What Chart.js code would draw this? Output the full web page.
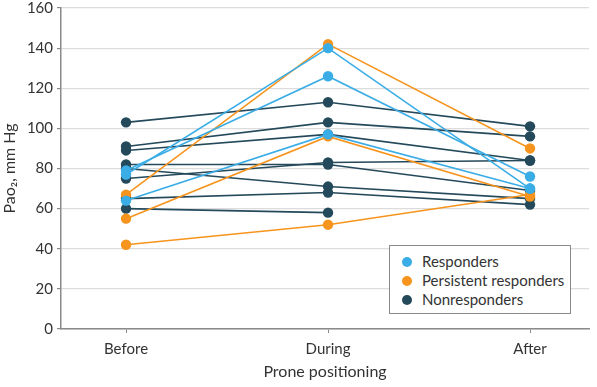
<!DOCTYPE html>
<html><head><meta charset="utf-8">
<script src="https://cdn.jsdelivr.net/npm/chart.js@4/dist/chart.umd.min.js"></script>
<style>
html,body{margin:0;padding:0;background:#fff;}
#wrap{position:relative;width:597px;height:387px;}
#legend{position:absolute;left:389px;top:245px;width:182px;height:69px;border:1px solid #8a8a8a;background:#fff;box-sizing:border-box;padding-top:6px;font-family:Lato,sans-serif;font-size:15px;color:#333;}
#legend .row{display:flex;align-items:center;height:19px;line-height:19px;}
#legend .dot{width:10px;height:10px;border-radius:50%;margin-left:12px;margin-right:10px;}
</style>
</head><body>
<div id="wrap"><canvas id="c" width="597" height="387"></canvas><div id="legend"></div></div>
<script>
const categories = ['Before', 'During', 'After'];
const yTickValues = [0, 20, 40, 60, 80, 100, 120, 140, 160];
const groupLabels = ['Responders', 'Persistent responders', 'Nonresponders'];
const responders = [[77, 140, 70], [79, 126, 76], [64, 97, 70]];
const persistentResponders = [[67, 142, 90], [55, 96, 66], [42, 52, 67]];
const nonresponders = [[103, 113, 101], [91, 103, 96], [89, 97, 84], [82, 82, 69], [75, 83, 84], [80, 71, 65], [65, 68, 62], [60, 58, null]];

const groupColors = ['#3aade6', '#f7941d', '#24495a'];
const groups = [responders, persistentResponders, nonresponders];
const FONT = 'Lato, sans-serif';

const datasets = [];
groups.forEach((g, gi) => {
  g.forEach(series => {
    datasets.push({
      label: groupLabels[gi],
      data: series.map((v, i) => ({x: i, y: v})),
      borderColor: groupColors[gi],
      backgroundColor: groupColors[gi],
      pointBackgroundColor: groupColors[gi],
      pointBorderWidth: 0,
      pointRadius: 5.2,
      borderWidth: 1.6,
      tension: 0,
      spanGaps: false
    });
  });
});

const legend = document.getElementById('legend');
groupLabels.forEach((l, i) => {
  const r = document.createElement('div'); r.className = 'row';
  const d = document.createElement('span'); d.className = 'dot'; d.style.background = groupColors[i];
  const t = document.createElement('span'); t.textContent = l;
  r.appendChild(d); r.appendChild(t); legend.appendChild(r);
});

new Chart(document.getElementById('c'), {
  type: 'line',
  data: {datasets},
  options: {
    responsive: false,
    animation: false,
    layout: {padding: {top: 8, right: 8, left: 0, bottom: 0}},
    plugins: {legend: {display: false}, tooltip: {enabled: false}},
    scales: {
      x: {
        type: 'linear',
        min: -0.322, max: 2.292,
        afterBuildTicks: s => { s.ticks = categories.map((c, i) => ({value: i})); },
        afterFit: s => { s.height = 58; s.paddingLeft = 0; s.paddingRight = 0; },
        ticks: {autoSkip: false, callback: v => categories[v], color: '#333', font: {family: FONT, size: 15}, padding: 7},
        grid: {display: true, drawOnChartArea: false, drawTicks: true, tickLength: 4, tickColor: '#8a8a8a'},
        border: {color: '#8a8a8a', width: 1.5},
        title: {display: true, text: 'Prone positioning', color: '#333', font: {family: FONT, size: 16}, padding: {top: 4, bottom: 6}}
      },
      y: {
        min: 0, max: 160,
        afterBuildTicks: s => { s.ticks = yTickValues.map(v => ({value: v})); },
        afterFit: s => { s.width = 61; s.paddingTop = 0; s.paddingBottom = 0; },
        ticks: {color: '#333', font: {family: FONT, size: 15}, padding: 4},
        grid: {color: '#dcdcdc', lineWidth: 1.2, tickLength: 4, tickColor: '#8a8a8a'},
        border: {color: '#8a8a8a', width: 1.5},
        title: {display: true, text: 'Pao₂, mm Hg', color: '#333', font: {family: FONT, size: 16}, padding: {top: 0, bottom: 4}}
      }
    }
  }
});
</script>
</body></html>
